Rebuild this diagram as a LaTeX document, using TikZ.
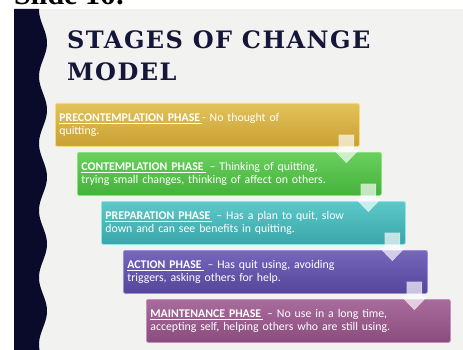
\documentclass[tikz,border=0pt]{standalone}
\usepackage{fontspec}
\setmainfont{Carlito}
\newfontfamily\titlefont[LetterSpace=6]{DejaVu Serif}
\newfontfamily\capfont{Liberation Serif}
\usetikzlibrary{calc}

\definecolor{slidebg}{HTML}{F2F2F0}
\definecolor{band}{HTML}{0A0A2A}
\definecolor{titleink}{HTML}{16163A}

\tikzset{
  stagebox/.style={rounded corners=2pt, line width=0.8pt, minimum width=304pt,
    minimum height=43pt, text width=296pt, align=left, inner sep=4pt,
    anchor=north west, text=white, font=\fontsize{11.8}{13}\selectfont},
  downarrow/.style={fill=white, fill opacity=0.68, draw=white, draw opacity=0.5, line width=0.4pt},
}
\newcommand{\phasehead}[1]{\underline{\textbf{#1}\kern2pt}}
% block arrow hanging from the lower right corner of a stage box
\newcommand{\hangarrow}[1]{%
  \path[downarrow]
    ($(#1.south east)+(-21,-12)$) -- ($(#1.south east)+(-6,-12)$)
    -- ($(#1.south east)+(-6,3)$) -- ($(#1.south east)+(-1,3)$)
    -- ($(#1.south east)+(-13.5,16)$) -- ($(#1.south east)+(-26,3)$)
    -- ($(#1.south east)+(-21,3)$) -- cycle;}

\begin{document}
\begin{tikzpicture}[x=1pt,y=-1pt]
  \useasboundingbox (0,0) rectangle (463,350);
  \begin{scope}
    \clip (0,0) rectangle (463,350);
    \fill[white] (0,0) rectangle (463,350);
    % caption line above the slide
    \node[anchor=base west, inner sep=0pt, font=\capfont\bfseries\fontsize{30}{30}\selectfont] (cap) at (14,5) {Slide 16:};
    % slide
    \fill[slidebg] (14,9) rectangle (463,350);
    \fill[band] (14,9) -- plot[domain=9:350, samples=160, variable=\t] ({43+4*cos(5.3731*(\t-43))}, \t) -- (14,350) -- cycle;
  \end{scope}

  % title
  \node[anchor=base west, inner sep=0pt, text=titleink,
        font=\titlefont\bfseries\fontsize{24}{33}\selectfont] (title1) at (67,49) {STAGES OF CHANGE};
  \node[anchor=base west, inner sep=0pt, text=titleink,
        font=\titlefont\bfseries\fontsize{24}{33}\selectfont] (title2) at (67,81) {MODEL};

  % stage boxes
  \node[stagebox, draw={rgb,255:red,245;green,220;blue,122},
        top color={rgb,255:red,227;green,194;blue,90}, bottom color={rgb,255:red,201;green,160;blue,50}]
        (s1) at (55,103) {\phasehead{PRECONTEMPLATION PHASE}- No thought of\\quitting.};
  \node[stagebox, draw={rgb,255:red,142;green,224;blue,127},
        top color={rgb,255:red,106;green,207;blue,94}, bottom color={rgb,255:red,68;green,178;blue,58}]
        (s2) at (77,152) {\phasehead{CONTEMPLATION PHASE} -- Thinking of quitting,\\trying small changes, thinking of affect on others.};
  \node[stagebox, draw={rgb,255:red,143;green,230;blue,236},
        top color={rgb,255:red,92;green,200;blue,200}, bottom color={rgb,255:red,58;green,166;blue,170}]
        (s3) at (101,201) {\phasehead{PREPARATION PHASE} -- Has a plan to quit, slow\\down and can see benefits in quitting.};
  \node[stagebox, draw={rgb,255:red,156;green,142;blue,219},
        top color={rgb,255:red,118;green,102;blue,188}, bottom color={rgb,255:red,86;green,70;blue,154}]
        (s4) at (123,250) {\phasehead{ACTION PHASE} -- Has quit using, avoiding\\triggers, asking others for help.};
  \node[stagebox, draw={rgb,255:red,200;green,144;blue,188},
        top color={rgb,255:red,168;green,108;blue,156}, bottom color={rgb,255:red,138;green,76;blue,124}]
        (s5) at (146,299) {\phasehead{MAINTENANCE PHASE} -- No use in a long time,\\accepting self, helping others who are still using.};

  \hangarrow{s1}
  \hangarrow{s2}
  \hangarrow{s3}
  \hangarrow{s4}
\end{tikzpicture}
\end{document}
